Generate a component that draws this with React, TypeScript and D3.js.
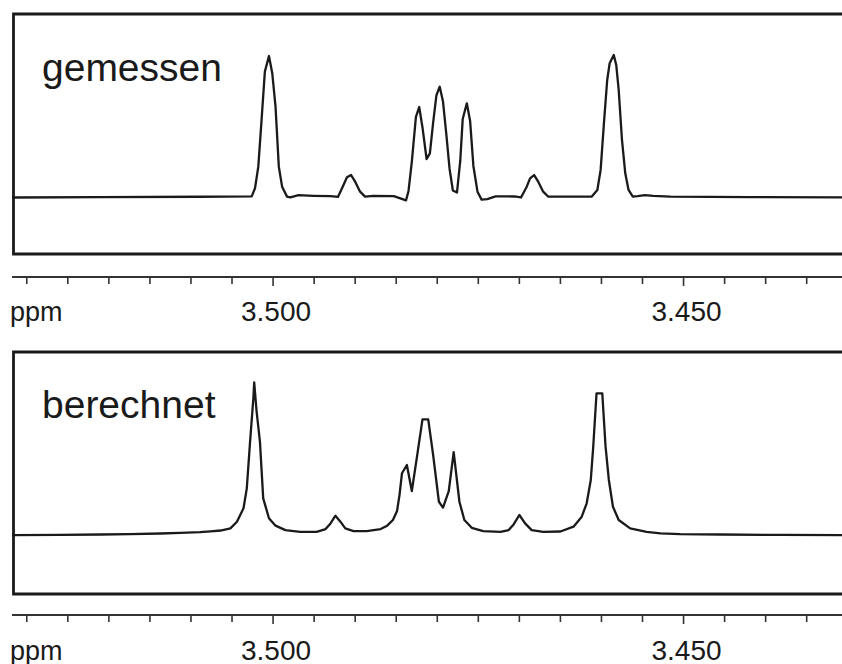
import React from "react";
import * as d3 from "d3";

// Measured spectrum ("gemessen"): chemical shift (ppm) and relative intensity
const measuredPpm = [
  3.5318, 3.521, 3.5089, 3.5026, 3.5022, 3.5018, 3.5014, 3.501, 3.5005, 3.5001,
  3.4997, 3.4993, 3.4989, 3.4983, 3.4979, 3.4969, 3.4951, 3.493, 3.4921, 3.4916,
  3.491, 3.4905, 3.49, 3.4894, 3.4888, 3.4878, 3.4853, 3.4845, 3.4838, 3.4835,
  3.4831, 3.4826, 3.4822, 3.4818, 3.4813, 3.4809, 3.4805, 3.4801, 3.4797, 3.4793,
  3.4789, 3.4785, 3.4781, 3.4776, 3.4772, 3.4769, 3.4764, 3.476, 3.4756, 3.4751,
  3.4746, 3.4739, 3.4729, 3.4706, 3.4698, 3.4691, 3.4687, 3.4682, 3.4677, 3.4671,
  3.4665, 3.465, 3.4612, 3.4605, 3.4601, 3.4597, 3.4593, 3.459, 3.4585, 3.4582,
  3.4579, 3.4575, 3.4571, 3.4567, 3.4562, 3.4556, 3.4547, 3.4537, 3.4516, 3.4419,
  3.4307,
];
const measuredIntensity = [
  -0.2, 0, 0.3, 0.6, 6.3, 21.5, 54.4, 88.4, 99.4, 87.3,
  63.7, 21.5, 7.4, 0.4, -0.2, 1.4, 1.0, 0.7, 0.2, 6.3,
  14.0, 15.6, 10.9, 3.9, 0.4, 1.0, 0.7, -0.8, -2.2, 4.4,
  24.8, 56.5, 63.5, 49.1, 26.9, 30.9, 52.6, 71.8, 77.8, 67.3,
  44.5, 19.9, 4.7, 3.3, 25.5, 55.1, 66.1, 53.7, 22.0, 3.9,
  -1.7, -1.3, 0.6, 0.5, -0.2, 7.4, 13.3, 15.6, 10.9, 3.9,
  0.5, 0.4, 0.4, 5.1, 19.2, 52.0, 82.5, 94.3, 100.1, 93.1,
  75.5, 40.3, 16.8, 5.1, 0.5, 0.8, 1.5, 1.0, 0.4, 0.1,
  -0.1,
];

// Calculated spectrum ("berechnet")
const calculatedPpm = [
  3.5318, 3.5259, 3.521, 3.5174, 3.5137, 3.5113, 3.5089, 3.5076, 3.5064, 3.5052,
  3.5044, 3.5036, 3.5032, 3.5028, 3.5024, 3.5023, 3.502, 3.5016, 3.5012, 3.5005,
  3.4997, 3.4985, 3.4967, 3.4947, 3.4936, 3.493, 3.4924, 3.4918, 3.4912, 3.4902,
  3.4886, 3.4869, 3.4861, 3.4854, 3.4849, 3.4846, 3.4843, 3.4837, 3.4831, 3.4825,
  3.4818, 3.4811, 3.4805, 3.4798, 3.4793, 3.4786, 3.478, 3.4773, 3.4767, 3.4758,
  3.4744, 3.4723, 3.4713, 3.4707, 3.47, 3.4693, 3.4685, 3.4671, 3.465, 3.4634,
  3.4624, 3.4618, 3.4613, 3.461, 3.4606, 3.4599, 3.4595, 3.4591, 3.4586, 3.4579,
  3.4565, 3.4545, 3.4528, 3.4504, 3.4455, 3.4382, 3.4307,
];
const calculatedIntensity = [
  0.4, 0.6, 0.8, 1.1, 1.5, 1.9, 2.5, 3.0, 3.6, 5.1,
  9.8, 19.2, 33.2, 66.0, 96.5, 107.6, 87.0, 66.0, 26.2, 12.2,
  7.0, 3.9, 2.7, 2.7, 4.6, 8.6, 14.0, 9.8, 5.1, 3.2,
  3.2, 4.6, 7.0, 11.0, 17.3, 28.5, 43.8, 49.6, 31.3, 54.3,
  81.7, 81.7, 56.6, 23.8, 19.7, 31.3, 58.7, 23.8, 11.0, 5.5,
  3.2, 2.7, 3.9, 7.9, 14.5, 8.6, 3.9, 2.7, 2.9, 6.3,
  13.3, 22.7, 39.1, 62.5, 100.0, 100.0, 62.5, 39.1, 20.3, 11.0,
  5.1, 2.7, 1.6, 1.1, 0.8, 0.5, 0.3,
];

const panelLabels = ["gemessen", "berechnet"];
const tickValues = [3.53, 3.525, 3.52, 3.515, 3.51, 3.505, 3.5, 3.495, 3.49, 3.485, 3.48, 3.475, 3.47, 3.465, 3.46, 3.455, 3.45, 3.445, 3.44, 3.435];
const majorTicks = [3.5, 3.45];
const axisUnit = "ppm";

const FONT = "'Liberation Sans', Arial, Helvetica, sans-serif";
const INK = "#1a1a1a";

type PanelProps = {
  label: string;
  ppm: number[];
  intensity: number[];
  boxTop: number;
  boxBottom: number;
  axisY: number;
  labelY: number;
  textY: number;
  yDomain: [number, number];
};

const x = d3.scaleLinear().domain([3.5318, 3.4307]).range([12, 842]);

function Panel(p: PanelProps) {
  const y = d3.scaleLinear().domain(p.yDomain).range([p.boxBottom, p.boxTop]);
  const pts: [number, number][] = p.ppm.map((v, i) => [v, p.intensity[i]]);
  const line = d3
    .line<[number, number]>()
    .x((d) => x(d[0]))
    .y((d) => y(d[1]));
  const fmt = d3.format(".3f");
  return (
    <g>
      <path
        d={`M850,${p.boxTop}H13.5V${p.boxBottom}H850`}
        fill="none"
        stroke={INK}
        strokeWidth={2.8}
      />
      <path
        d={line(pts) || ""}
        fill="none"
        stroke={INK}
        strokeWidth={2.3}
        strokeLinejoin="round"
      />
      <text x={42} y={p.textY} fontFamily={FONT} fontSize={39} fill={INK}>
        {p.label}
      </text>
      <line x1={12} x2={842} y1={p.axisY} y2={p.axisY} stroke="#333" strokeWidth={1.8} />
      {tickValues.map((t) => {
        const major = majorTicks.some((m) => Math.abs(m - t) < 1e-9);
        return (
          <line
            key={t}
            x1={x(t)}
            x2={x(t)}
            y1={p.axisY}
            y2={p.axisY + (major ? 9 : 7)}
            stroke="#333"
            strokeWidth={1.6}
          />
        );
      })}
      {majorTicks.map((t) => (
        <text
          key={t}
          x={x(t) + 3}
          y={p.labelY}
          textAnchor="middle"
          fontFamily={FONT}
          fontSize={28}
          fill={INK}
        >
          {fmt(t)}
        </text>
      ))}
      <text x={10} y={p.labelY} fontFamily={FONT} fontSize={27} fill={INK}>
        {axisUnit}
      </text>
    </g>
  );
}

export default function App() {
  return (
    <svg
      width={842}
      height={664}
      viewBox="0 0 842 664"
      style={{ position: "absolute", left: 0, top: 0, background: "#fff" }}
    >
      <rect width={842} height={664} fill="#fff" />
      <Panel
        label={panelLabels[0]}
        ppm={measuredPpm}
        intensity={measuredIntensity}
        boxTop={14}
        boxBottom={254}
        axisY={277}
        labelY={320.5}
        textY={81}
        yDomain={[-40, 129]}
      />
      <Panel
        label={panelLabels[1]}
        ppm={calculatedPpm}
        intensity={calculatedIntensity}
        boxTop={352}
        boxBottom={594}
        axisY={615}
        labelY={659.5}
        textY={418}
        yDomain={[-41, 129]}
      />
    </svg>
  );
}
